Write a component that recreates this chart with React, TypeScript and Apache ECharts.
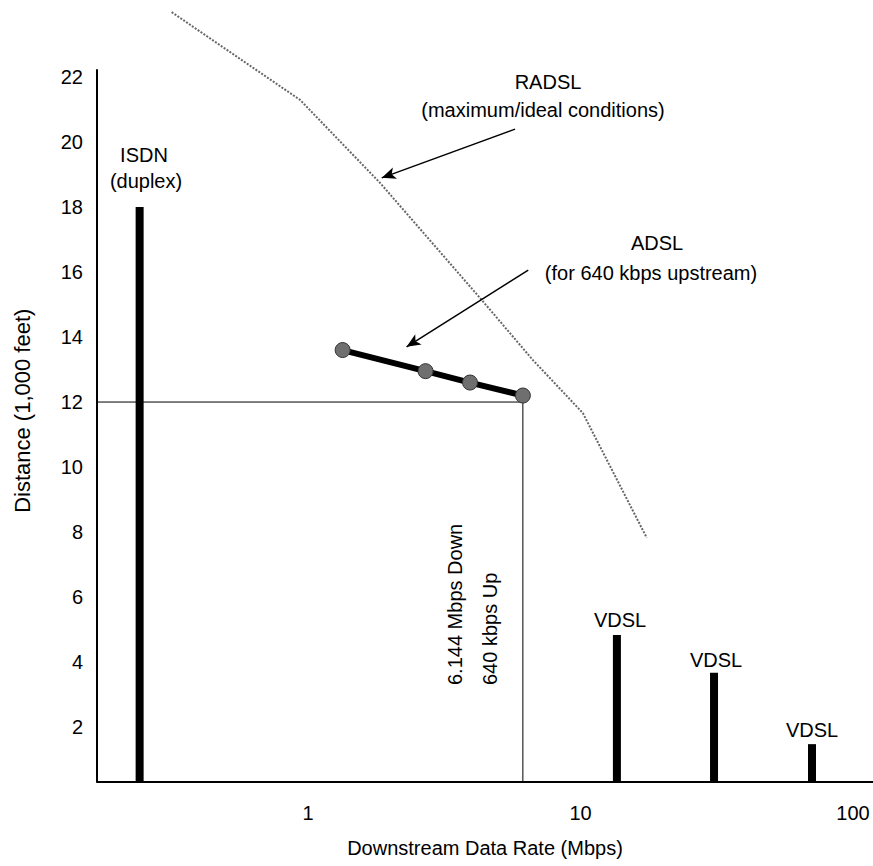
import React, { useEffect, useRef } from "react";
import * as echarts from "echarts";

// Axis extents (Mbps on a log scale, distance in 1,000 ft)
const X_MIN = 0.1681;
const X_MAX = 118.4;
const Y_MIN = 0.32;
const Y_MAX = 22.22;
const yTickLabels = [2, 4, 6, 8, 10, 12, 14, 16, 18, 20, 22];

// ISDN (duplex)
const isdnRates = [0.241];
const isdnDistances = [18];

// VDSL
const vdslRates = [13.6, 30.9, 70.7];
const vdslDistances = [4.83, 3.67, 1.47];

// ADSL (for 640 kbps upstream)
const adslRates = [1.34, 2.7, 3.93, 6.144];
const adslDistances = [13.6, 12.95, 12.6, 12.2];

// RADSL (maximum/ideal conditions)
const radslRates = [0.316, 0.935, 1.84, 4.28, 6.69, 10.2, 17.5];
const radslDistances = [24.0, 21.3, 18.74, 15.2, 13.29, 11.66, 7.82];

// Reference point: 6.144 Mbps down / 640 kbps up at 12,000 ft
const refRate = 6.144;
const refDistance = 12;

// Annotation arrows (from -> to) in data units
const radslArrow = [[5.75, 20.4], [1.865, 18.9]];
const adslArrow = [[6.43, 16.06], [2.3, 13.7]];

const FONT = '"Liberation Sans", Arial, Helvetica, sans-serif';
const FS = 20;

export default function App() {
  const ref = useRef<HTMLDivElement>(null);

  useEffect(() => {
    if (!ref.current) return;
    const chart = echarts.init(ref.current, undefined, { renderer: "svg" });

    const barData = [
      ...isdnRates.map((r, i) => [r, isdnDistances[i]]),
      ...vdslRates.map((r, i) => [r, vdslDistances[i]]),
    ];
    const adslData = adslRates.map((r, i) => [r, adslDistances[i]]);
    const radslData = radslRates.map((r, i) => [r, radslDistances[i]]);
    const refData = [
      [X_MIN, refDistance],
      [refRate, refDistance],
      [refRate, Y_MIN],
    ];

    const txt = (
      text: string,
      x: number,
      y: number,
      extra: any = {}
    ) => ({
      type: "text",
      x,
      y,
      silent: true,
      ...extra,
      style: {
        text,
        fill: "#000",
        fontSize: extra.fontSize || FS,
        fontFamily: FONT,
        align: extra.align || "center",
        verticalAlign: "middle",
      },
    });

    const arrowStyle = {
      silent: true,
      symbol: ["none", "arrow"],
      symbolSize: [9, 14],
      label: { show: false },
      emphasis: { disabled: true },
      lineStyle: { color: "#000", width: 1.5, type: "solid" },
    };

    chart.setOption({
      animation: false,
      backgroundColor: "#fff",
      grid: {
        left: 97,
        right: 0,
        top: 70,
        bottom: 84.5,
        outerBoundsMode: "none",
      },
      xAxis: {
        type: "log",
        logBase: 10,
        min: X_MIN,
        max: X_MAX,
        name: "Downstream Data Rate (Mbps)",
        nameLocation: "middle",
        nameGap: 56,
        nameTextStyle: { fontSize: FS, color: "#000", fontFamily: FONT },
        axisLine: { lineStyle: { color: "#000", width: 2 } },
        axisTick: { show: false },
        minorTick: { show: false },
        splitLine: { show: false },
        minorSplitLine: { show: false },
        axisLabel: {
          fontSize: FS,
          color: "#000",
          fontFamily: FONT,
          margin: 21,
          showMinLabel: false,
          showMaxLabel: false,
          formatter: (v: number) => String(Math.round(v)),
        },
      },
      yAxis: {
        type: "value",
        min: Y_MIN,
        max: Y_MAX,
        minInterval: 2,
        maxInterval: 2,
        name: "Distance (1,000 feet)",
        nameLocation: "middle",
        nameRotate: 90,
        nameGap: 64,
        nameTextStyle: {
          fontSize: 22,
          color: "#000",
          fontFamily: FONT,
          padding: [0, 0, 0, 30],
        },
        axisLine: { show: true, lineStyle: { color: "#000", width: 2 } },
        axisTick: { show: false },
        splitLine: { show: false },
        axisLabel: {
          customValues: yTickLabels,
          fontSize: FS,
          color: "#000",
          fontFamily: FONT,
          margin: 14,
          showMinLabel: true,
          showMaxLabel: true,
        },
      },
      series: [
        {
          name: "RADSL",
          type: "line",
          data: radslData,
          clip: false,
          symbol: "none",
          silent: true,
          lineStyle: { color: "#666", width: 2, type: [2, 1.5] },
          markLine: {
            ...arrowStyle,
            data: [[{ coord: radslArrow[0] }, { coord: radslArrow[1] }]],
          },
          z: 2,
        },
        {
          name: "Reference",
          type: "line",
          data: refData,
          symbol: "none",
          silent: true,
          lineStyle: { color: "#000", width: 1 },
          z: 1,
        },
        {
          name: "ADSL",
          type: "line",
          data: adslData,
          symbol: "circle",
          symbolSize: 15,
          silent: true,
          itemStyle: { color: "#6f6f6f", borderColor: "#333", borderWidth: 1 },
          lineStyle: { color: "#000", width: 6 },
          markLine: {
            ...arrowStyle,
            data: [[{ coord: adslArrow[0] }, { coord: adslArrow[1] }]],
          },
          z: 3,
        },
        {
          name: "ISDN / VDSL",
          type: "custom",
          data: barData,
          encode: { x: 0, y: 1 },
          silent: true,
          renderItem: (_params: any, api: any) => {
            const x = api.value(0);
            const h = api.value(1);
            const top = api.coord([x, h]);
            const bottom = api.coord([x, Y_MIN]);
            return {
              type: "rect",
              shape: {
                x: top[0] - 4,
                y: top[1],
                width: 8,
                height: bottom[1] - top[1],
              },
              style: { fill: "#000" },
            };
          },
          z: 4,
        },
      ],
      graphic: [
        txt("ISDN", 144, 155),
        txt("(duplex)", 146, 181),
        txt("RADSL", 548, 82),
        txt("(maximum/ideal conditions)", 543, 110),
        txt("ADSL", 657, 243),
        txt("(for 640 kbps upstream)", 651, 273),
        txt("VDSL", 620, 620),
        txt("VDSL", 716, 660),
        txt("VDSL", 812, 730),
        txt("6.144 Mbps Down", 455, 685, { rotation: Math.PI / 2, align: "left" }),
        txt("640 kbps Up", 490, 685, { rotation: Math.PI / 2, align: "left" }),
      ],
    });

    return () => chart.dispose();
  }, []);

  return (
    <div
      ref={ref}
      style={{
        position: "fixed",
        left: 0,
        top: 0,
        width: 873,
        height: 866,
        background: "#fff",
      }}
    />
  );
}
